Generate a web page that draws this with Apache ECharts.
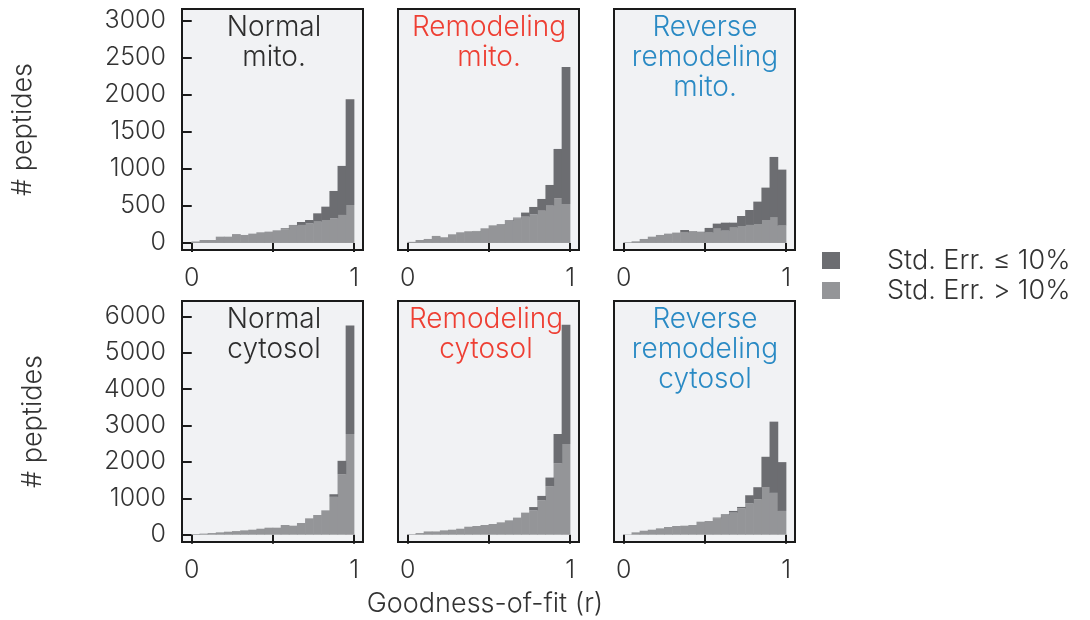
<!DOCTYPE html>
<html>
<head>
<meta charset="utf-8">
<script src="https://cdn.jsdelivr.net/npm/echarts@6/dist/echarts.min.js"></script>
<style>
  html, body { margin: 0; padding: 0; background: #ffffff; }
  #chart { width: 1090px; height: 620px; }
</style>
</head>
<body>
<div id="chart"></div>
<script>
// Histogram bin edges for goodness-of-fit (r)
const binEdges = [0.00, 0.05, 0.10, 0.15, 0.20, 0.25, 0.30, 0.35, 0.40, 0.45, 0.50,
                  0.55, 0.60, 0.65, 0.70, 0.75, 0.80, 0.85, 0.90, 0.95, 1.00];

// Peptide counts per bin: "High" = Std. Err. > 10%, "Low" = Std. Err. ≤ 10% (stacked on top)
const normalMitoHigh  = [20, 40, 40, 85, 85, 120, 108, 126, 144, 153, 171, 185, 234, 243, 265, 288, 310, 333, 378, 513];
const normalMitoLow   = [0, 0, 0, 0, 0, 0, 0, 0, 0, 0, 0, 13, 9, 40, 45, 112, 180, 369, 662, 1427];
const remodMitoHigh   = [15, 40, 54, 95, 77, 117, 144, 158, 158, 198, 238, 252, 297, 333, 355, 387, 436, 504, 603, 526];
const remodMitoLow    = [0, 0, 0, 0, 0, 0, 0, 0, 4, 0, 0, 4, 9, 9, 55, 99, 158, 279, 666, 1850];
const reverseMitoHigh = [9, 22, 54, 85, 108, 126, 140, 140, 153, 153, 140, 193, 166, 207, 229, 243, 256, 310, 342, 234];
const reverseMitoLow  = [0, 0, 0, 0, 0, 0, 0, 35, 7, 0, 63, 68, 108, 67, 135, 202, 302, 437, 819, 756];
const normalCytoHigh  = [20, 30, 45, 65, 83, 100, 120, 138, 165, 193, 193, 267, 248, 322, 450, 542, 670, 1040, 1663, 2766];
const normalCytoLow   = [0, 0, 0, 0, 0, 0, 0, 0, 0, 0, 0, 0, 0, 0, 0, 0, 0, 72, 367, 2978];
const remodCytoHigh   = [15, 45, 90, 90, 120, 138, 165, 220, 240, 267, 295, 340, 395, 470, 607, 670, 947, 1333, 1966, 2490];
const remodCytoLow    = [0, 0, 0, 0, 0, 0, 0, 0, 0, 0, 0, 0, 0, 0, 0, 90, 119, 237, 800, 3280];
const reverseCytoHigh = [10, 65, 110, 138, 175, 212, 240, 248, 267, 358, 377, 450, 542, 607, 726, 864, 974, 1296, 1149, 653];
const reverseCytoLow  = [0, 0, 0, 0, 0, 0, 0, 0, 0, 0, 0, 20, 18, 46, 37, 220, 331, 845, 1957, 1341];

// Panel titles
const panelTitles = [
  'Normal\nmito.', 'Remodeling\nmito.', 'Reverse\nremodeling\nmito.',
  'Normal\ncytosol', 'Remodeling\ncytosol', 'Reverse\nremodeling\ncytosol'
];

// Axis ticks and labels
const mitoTicks = [0, 500, 1000, 1500, 2000, 2500, 3000];
const cytoTicks = [0, 1000, 2000, 3000, 4000, 5000, 6000];
const xTicks = [0, 0.5, 1];
const xTickLabels = [0, 1];

const seriesLowName = 'Std. Err. \u2264 10%';
const seriesHighName = 'Std. Err. > 10%';
const yAxisTitle = '# peptides';
const xAxisTitle = 'Goodness-of-fit (r)';

// ---- styling / layout ----
const FONT = 'Inter, Roboto, "Liberation Sans", sans-serif';
const TEXT_COLOR = '#333333';
const TITLE_COLORS = ['#2d2d2d', '#ee3f33', '#2a8ac4', '#2d2d2d', '#ee3f33', '#2a8ac4'];
const DARK = '#6c6d71';
const LIGHT = '#949598';
const PANEL_BG = '#f1f2f4';
const FRAME = '#1a1a1a';

const colLefts = [182, 398, 614];
const rowTops = [9, 301];
const panelW = 181;
const panelH = 241;
const titleCenters = [[274, 489, 705], [274, 486, 705]];

const panelHigh = [normalMitoHigh, remodMitoHigh, reverseMitoHigh, normalCytoHigh, remodCytoHigh, reverseCytoHigh];
const panelLow = [normalMitoLow, remodMitoLow, reverseMitoLow, normalCytoLow, remodCytoLow, reverseCytoLow];

function renderBin(params, api) {
  const x0 = api.value(0), x1 = api.value(1), y0 = api.value(2), y1 = api.value(3);
  if (!(y1 > y0)) return null;
  const a = api.coord([x0, y1]);
  const b = api.coord([x1, y0]);
  return {
    type: 'rect',
    shape: { x: a[0] - 0.3, y: a[1], width: b[0] - a[0] + 0.6, height: b[1] - a[1] },
    style: { fill: api.visual('color') }
  };
}

const grids = [], xAxes = [], yAxes = [], series = [], graphics = [];

for (let p = 0; p < 6; p++) {
  const row = Math.floor(p / 3), col = p % 3;
  const left = colLefts[col], top = rowTops[row];
  grids.push({
    left: left, top: top, width: panelW, height: panelH,
    show: true, backgroundColor: PANEL_BG, borderColor: FRAME, borderWidth: 2
  });
  xAxes.push({
    gridIndex: p, type: 'value', min: -0.06, max: 1.055,
    axisLine: { show: false },
    splitLine: { show: false },
    axisTick: { show: true, customValues: xTicks, length: 9, lineStyle: { color: FRAME, width: 2 } },
    axisLabel: {
      customValues: xTickLabels, formatter: v => String(v), margin: 16,
      color: TEXT_COLOR, fontSize: 25, fontFamily: FONT, fontWeight: 300
    }
  });
  const ticks = row === 0 ? mitoTicks : cytoTicks;
  const yax = {
    gridIndex: p, type: 'value',
    min: row === 0 ? -95 : -200, max: row === 0 ? 3158 : 6420,
    axisLine: { show: false },
    splitLine: { show: false },
    axisTick: { show: col === 0, customValues: ticks, length: 9, lineStyle: { color: FRAME, width: 2 } },
    axisLabel: {
      show: col === 0, customValues: ticks, formatter: v => String(v), margin: 16,
      color: TEXT_COLOR, fontSize: 25, fontFamily: FONT, fontWeight: 300
    }
  };
  if (col === 0) {
    yax.name = yAxisTitle;
    yax.nameLocation = 'middle';
    yax.nameGap = row === 0 ? 146 : 136;
    yax.nameTextStyle = { color: TEXT_COLOR, fontSize: 27, fontFamily: FONT, fontWeight: 300 };
  }
  yAxes.push(yax);

  const high = panelHigh[p], low = panelLow[p];
  const highRows = [], lowRows = [];
  for (let i = 0; i < high.length; i++) {
    highRows.push([binEdges[i], binEdges[i + 1], 0, high[i]]);
    lowRows.push([binEdges[i], binEdges[i + 1], high[i], high[i] + low[i]]);
  }
  series.push({
    name: seriesHighName, type: 'custom', xAxisIndex: p, yAxisIndex: p,
    renderItem: renderBin, itemStyle: { color: LIGHT },
    encode: { x: [0, 1], y: [2, 3] }, data: highRows, silent: true
  });
  series.push({
    name: seriesLowName, type: 'custom', xAxisIndex: p, yAxisIndex: p,
    renderItem: renderBin, itemStyle: { color: DARK },
    encode: { x: [0, 1], y: [2, 3] }, data: lowRows, silent: true
  });

  graphics.push({
    type: 'text', x: titleCenters[row][col], y: top + 4, z: 10,
    style: {
      text: panelTitles[p], align: 'center', verticalAlign: 'top',
      fill: TITLE_COLORS[p], fontSize: 28, lineHeight: 30,
      fontFamily: FONT, fontWeight: 300
    }
  });
}

graphics.push({
  type: 'text', x: 485, y: 604,
  style: {
    text: xAxisTitle, align: 'center', verticalAlign: 'middle',
    fill: TEXT_COLOR, fontSize: 27, fontFamily: FONT, fontWeight: 300
  }
});

const chart = echarts.init(document.getElementById('chart'), null, { renderer: 'canvas' });
chart.setOption({
  animation: false,
  backgroundColor: '#ffffff',
  grid: grids,
  xAxis: xAxes,
  yAxis: yAxes,
  series: series,
  graphic: graphics,
  legend: {
    data: [seriesLowName, seriesHighName],
    orient: 'vertical', left: 822, top: 247, padding: 0,
    itemWidth: 18, itemHeight: 17, itemGap: 3,
    icon: 'rect', selectedMode: false,
    textStyle: {
      color: TEXT_COLOR, fontSize: 27, lineHeight: 26,
      fontFamily: FONT, fontWeight: 300, padding: [0, 0, 0, 42]
    }
  }
});
</script>
</body>
</html>
